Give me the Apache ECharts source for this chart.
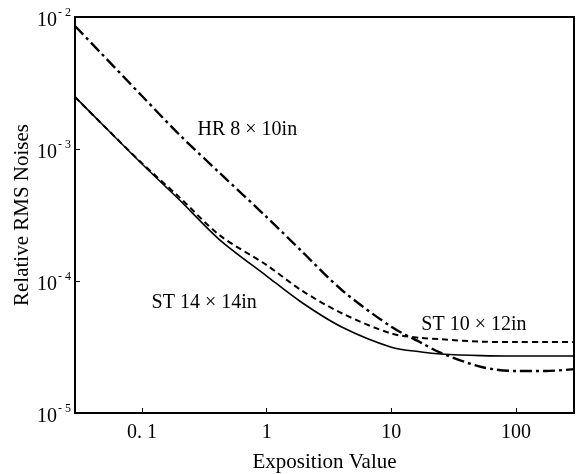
<!DOCTYPE html>
<html>
<head>
<meta charset="utf-8">
<script src="https://cdn.jsdelivr.net/npm/echarts@6/dist/echarts.min.js"></script>
<style>
  html, body { margin: 0; padding: 0; background: #fff; }
  #chart { width: 582px; height: 474px; }
</style>
</head>
<body>
<div id="chart"></div>
<script>
// exposition values (x, log scale)
var exposition = [0.029, 0.046, 0.1, 0.2, 0.42, 1, 1.9, 4, 10, 17.4, 25, 53, 100, 174, 292];

// relative RMS noise per film (y, log scale)
var st14x14 = [2.48e-3, 1.60e-3, 7.7e-4, 4.11e-4, 2.05e-4, 1.09e-4, 6.9e-5, 4.48e-5, 3.15e-5, 2.9e-5, 2.8e-5, 2.72e-5, 2.7e-5, 2.7e-5, 2.7e-5];
var st10x12 = [2.48e-3, 1.60e-3, 7.8e-4, 4.3e-4, 2.22e-4, 1.32e-4, 8.5e-5, 5.7e-5, 4.0e-5, 3.7e-5, 3.62e-5, 3.47e-5, 3.45e-5, 3.45e-5, 3.45e-5];
var hr8x10 = [8.55e-3, 5.43e-3, 2.52e-3, 1.28e-3, 6.58e-4, 3.05e-4, 1.69e-4, 8.55e-5, 4.5e-5, 3.4e-5, 2.85e-5, 2.23e-5, 2.08e-5, 2.08e-5, 2.15e-5];

var xTickValues = [0.1, 1, 10, 100];
var xTickLabels = ['0. 1', '1', '10', '100'];
var yTickValues = [1e-5, 1e-4, 1e-3, 1e-2];
var yTickExps = ['- 5', '- 4', '- 3', '- 2'];

// curve labels: [text, x, y]
var curveLabels = [
  ['HR 8 \u00d7 10in', 0.70, 1.39e-3],
  ['ST 14 \u00d7 14in', 0.315, 6.8e-5],
  ['ST 10 \u00d7 12in', 46, 4.64e-5]
];

var serif = "'Liberation Serif', 'Times New Roman', serif";

function pairs(xs, ys) {
  var out = [];
  for (var i = 0; i < xs.length; i++) out.push([xs[i], ys[i]]);
  return out;
}

function findIdx(arr, v) {
  for (var i = 0; i < arr.length; i++) {
    if (Math.abs(Math.log10(v) - Math.log10(arr[i])) < 1e-6) return i;
  }
  return -1;
}

var chart = echarts.init(document.getElementById('chart'), null, { renderer: 'canvas' });

var lineBase = { type: 'line', smooth: 0.3, symbol: 'none', silent: true };

chart.setOption({
  backgroundColor: '#fff',
  animation: false,
  textStyle: { fontFamily: serif },
  grid: {
    left: 75, right: 8, top: 17, bottom: 61,
    outerBoundsMode: 'none',
    show: true, borderColor: '#000', borderWidth: 2
  },
  xAxis: {
    type: 'log',
    logBase: 10,
    min: 0.029,
    max: 292,
    name: 'Exposition Value',
    nameLocation: 'middle',
    nameGap: 39,
    nameMoveOverlap: false,
    nameTextStyle: { color: '#000', fontSize: 21, fontFamily: serif },
    axisLine: { lineStyle: { color: '#000', width: 2 } },
    axisTick: { inside: true, length: 5, lineStyle: { color: '#000', width: 1 } },
    splitLine: { show: false },
    minorTick: { show: false },
    axisLabel: {
      color: '#000', fontSize: 20, fontFamily: serif, margin: 10,
      formatter: function (v) {
        var i = findIdx(xTickValues, v);
        return i < 0 ? '' : xTickLabels[i];
      }
    }
  },
  yAxis: {
    type: 'log',
    logBase: 10,
    min: 1e-5,
    max: 1e-2,
    name: 'Relative RMS Noises',
    nameLocation: 'middle',
    nameGap: 42,
    nameMoveOverlap: false,
    nameTextStyle: { color: '#000', fontSize: 21, fontFamily: serif },
    axisLine: { lineStyle: { color: '#000', width: 2 } },
    axisTick: { inside: true, length: 5, lineStyle: { color: '#000', width: 1 } },
    splitLine: { show: false },
    axisLabel: {
      color: '#000', fontFamily: serif, margin: 4,
      formatter: function (v) {
        var i = findIdx(yTickValues, v);
        return i < 0 ? '' : '{b|10}{s|' + yTickExps[i] + '}';
      },
      rich: {
        b: { fontSize: 20, fontFamily: serif, color: '#000', padding: [7, 0, 0, 0] },
        s: { fontSize: 12, fontFamily: serif, color: '#000', padding: [0, 0, 9, 1] }
      }
    }
  },
  series: [
    Object.assign({}, lineBase, {
      name: 'ST 14x14in',
      data: pairs(exposition, st14x14),
      lineStyle: { color: '#000', width: 1.6, type: 'solid' },
      z: 3
    }),
    Object.assign({}, lineBase, {
      name: 'ST 10x12in',
      data: pairs(exposition, st10x12),
      lineStyle: { color: '#000', width: 2, type: [6, 4] },
      z: 4
    }),
    Object.assign({}, lineBase, {
      name: 'HR 8x10in',
      data: pairs(exposition, hr8x10),
      lineStyle: { color: '#000', width: 2.4, type: [12, 4, 3, 4] },
      z: 5,
      markPoint: {
        symbol: 'circle',
        symbolSize: 0,
        silent: true,
        label: {
          show: true, position: 'inside',
          color: '#000', fontSize: 20, fontFamily: serif,
          formatter: function (p) { return p.name; }
        },
        data: curveLabels.map(function (c) {
          return { name: c[0], coord: [c[1], c[2]] };
        })
      }
    })
  ]
});
</script>
</body>
</html>
